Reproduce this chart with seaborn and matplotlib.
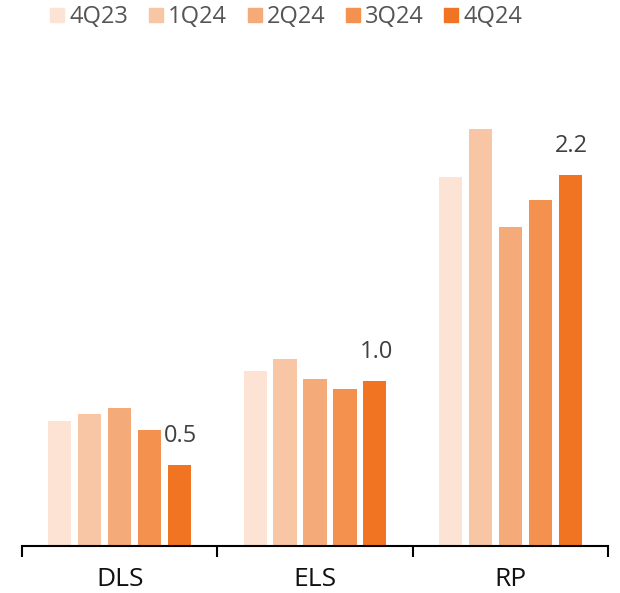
import numpy as np
import pandas as pd
import seaborn as sns
import matplotlib.pyplot as plt
from matplotlib.lines import Line2D

segments = ["DLS", "ELS", "RP"]
quarters = ["4Q23", "1Q24", "2Q24", "3Q24", "4Q24"]
dls = [0.74, 0.78, 0.82, 0.69, 0.48]
els = [1.04, 1.11, 0.99, 0.93, 0.98]
rp = [2.19, 2.47, 1.89, 2.05, 2.20]
labels_4q24 = ["0.5", "1.0", "2.2"]
colors = ["#FCE3D3", "#F8C6A5", "#F5AB79", "#F4914E", "#F07422"]

rows = []
for seg, vals in zip(segments, [dls, els, rp]):
    for q, v in zip(quarters, vals):
        rows.append({"segment": seg, "quarter": q, "value": v})
df = pd.DataFrame(rows)

sns.set_theme(style="white")
plt.rcParams['font.family'] = ['Open Sans', 'DejaVu Sans']

fig = plt.figure(figsize=(6.2, 5.93), dpi=100)
ax = fig.add_axes([22 / 620, 47 / 593, 586 / 620, 506 / 593])

sns.barplot(data=df, x="segment", y="value", hue="quarter", hue_order=quarters,
            palette=colors, saturation=1, width=0.767, gap=0.23, linewidth=0, ax=ax)
ax.get_legend().remove()

ax.set_xlim(-0.5, 2.5)
ax.set_ylim(0, 3.0)
ax.set_xlabel("")
ax.set_ylabel("")
ax.set_yticks([])
for s in ["top", "left", "right"]:
    ax.spines[s].set_visible(False)
ax.spines["bottom"].set_color("black")
ax.spines["bottom"].set_linewidth(1.5)
ax.tick_params(axis="x", which="major", length=0, pad=15, labelsize=19, labelcolor="#111111")
ax.set_xticks([-0.5, 0.5, 1.5, 2.5], minor=True)
ax.tick_params(axis="x", which="minor", length=8, width=1.5, color="black", bottom=True)

# value labels over 4Q24 bars
for bar, txt in zip(ax.containers[-1], labels_4q24):
    ax.annotate(txt, (bar.get_x() + bar.get_width() / 2, bar.get_height()),
                xytext=(1, 21), textcoords="offset points",
                ha="center", va="center", fontsize=17, color="#404040")

handles = [Line2D([0], [0], marker="s", linestyle="", markersize=9.5,
                  markerfacecolor=c, markeredgecolor=c) for c in colors]
fig.legend(handles, quarters, loc="center left", bbox_to_anchor=(39 / 620, 1 - 17 / 593),
           ncol=5, frameon=False, fontsize=17, labelcolor="#555555",
           handlelength=0.55, handletextpad=0.25, columnspacing=0.88, borderpad=0)

fig.savefig("out.png", dpi=100)
